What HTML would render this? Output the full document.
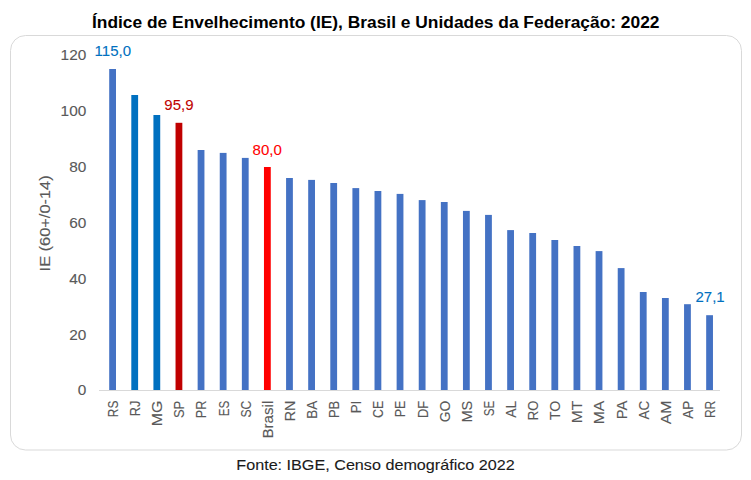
<!DOCTYPE html>
<html><head><meta charset="utf-8"><style>
html,body{margin:0;padding:0;background:#fff;}
body{width:751px;height:480px;overflow:hidden;position:relative;font-family:"Liberation Sans",sans-serif;}
svg{position:absolute;left:0;top:0;}
</style></head><body>
<svg width="751" height="480" viewBox="0 0 751 480" font-family="Liberation Sans, sans-serif">
<rect x="10.5" y="35.5" width="731" height="414.5" rx="15" ry="15" fill="#fff" stroke="#d9d9d9" stroke-width="1"/>
<text x="92" y="27.7" font-size="17.2" font-weight="bold" fill="#000" textLength="567.5" lengthAdjust="spacingAndGlyphs">Índice de Envelhecimento (IE), Brasil e Unidades da Federação: 2022</text>
<line x1="99" y1="390.5" x2="720" y2="390.5" stroke="#d9d9d9" stroke-width="1"/>
<rect x="109.20" y="69" width="6.8" height="321.00" fill="#4472C4"/><rect x="131.31" y="95" width="6.8" height="295.00" fill="#0070C0"/><rect x="153.42" y="115" width="6.8" height="275.00" fill="#0070C0"/><rect x="175.53" y="122.8" width="6.8" height="267.20" fill="#C00000"/><rect x="197.64" y="150" width="6.8" height="240.00" fill="#4472C4"/><rect x="219.75" y="152.9" width="6.8" height="237.10" fill="#4472C4"/><rect x="241.86" y="157.9" width="6.8" height="232.10" fill="#4472C4"/><rect x="263.97" y="167" width="6.8" height="223.00" fill="#FF0000"/><rect x="286.08" y="178" width="6.8" height="212.00" fill="#4472C4"/><rect x="308.19" y="179.9" width="6.8" height="210.10" fill="#4472C4"/><rect x="330.30" y="183" width="6.8" height="207.00" fill="#4472C4"/><rect x="352.41" y="188.1" width="6.8" height="201.90" fill="#4472C4"/><rect x="374.52" y="191" width="6.8" height="199.00" fill="#4472C4"/><rect x="396.63" y="193.9" width="6.8" height="196.10" fill="#4472C4"/><rect x="418.74" y="200.1" width="6.8" height="189.90" fill="#4472C4"/><rect x="440.85" y="202" width="6.8" height="188.00" fill="#4472C4"/><rect x="462.96" y="210.9" width="6.8" height="179.10" fill="#4472C4"/><rect x="485.07" y="214.9" width="6.8" height="175.10" fill="#4472C4"/><rect x="507.18" y="230.1" width="6.8" height="159.90" fill="#4472C4"/><rect x="529.29" y="233" width="6.8" height="157.00" fill="#4472C4"/><rect x="551.40" y="240" width="6.8" height="150.00" fill="#4472C4"/><rect x="573.51" y="246" width="6.8" height="144.00" fill="#4472C4"/><rect x="595.62" y="251.1" width="6.8" height="138.90" fill="#4472C4"/><rect x="617.73" y="268.1" width="6.8" height="121.90" fill="#4472C4"/><rect x="639.84" y="292" width="6.8" height="98.00" fill="#4472C4"/><rect x="661.95" y="298" width="6.8" height="92.00" fill="#4472C4"/><rect x="684.06" y="304.2" width="6.8" height="85.80" fill="#4472C4"/><rect x="706.17" y="315.2" width="6.8" height="74.80" fill="#4472C4"/>
<g font-size="15.4" fill="#595959" stroke="#595959" stroke-width="0.12"><text x="86.3" y="395.40" text-anchor="end">0</text><text x="86.3" y="339.57" text-anchor="end">20</text><text x="86.3" y="283.73" text-anchor="end">40</text><text x="86.3" y="227.90" text-anchor="end">60</text><text x="86.3" y="172.07" text-anchor="end">80</text><text x="86.3" y="116.23" text-anchor="end">100</text><text x="86.3" y="60.40" text-anchor="end">120</text></g>
<g font-size="15" fill="#595959" stroke="#595959" stroke-width="0.12"><text transform="translate(118.00,400.70) rotate(-90)" text-anchor="end" textLength="16.5" lengthAdjust="spacingAndGlyphs">RS</text><text transform="translate(140.11,400.70) rotate(-90)" text-anchor="end" textLength="15.6" lengthAdjust="spacingAndGlyphs">RJ</text><text transform="translate(162.22,400.70) rotate(-90)" text-anchor="end" textLength="25.6" lengthAdjust="spacingAndGlyphs">MG</text><text transform="translate(184.33,400.70) rotate(-90)" text-anchor="end" textLength="17.4" lengthAdjust="spacingAndGlyphs">SP</text><text transform="translate(206.44,400.70) rotate(-90)" text-anchor="end" textLength="17.6" lengthAdjust="spacingAndGlyphs">PR</text><text transform="translate(228.55,400.70) rotate(-90)" text-anchor="end" textLength="15.6" lengthAdjust="spacingAndGlyphs">ES</text><text transform="translate(250.66,400.70) rotate(-90)" text-anchor="end" textLength="16.9" lengthAdjust="spacingAndGlyphs">SC</text><text transform="translate(272.77,400.70) rotate(-90)" text-anchor="end" textLength="37.8" lengthAdjust="spacingAndGlyphs">Brasil</text><text transform="translate(294.88,400.70) rotate(-90)" text-anchor="end" textLength="20.6" lengthAdjust="spacingAndGlyphs">RN</text><text transform="translate(316.99,400.70) rotate(-90)" text-anchor="end" textLength="18.0" lengthAdjust="spacingAndGlyphs">BA</text><text transform="translate(339.10,400.70) rotate(-90)" text-anchor="end" textLength="17.4" lengthAdjust="spacingAndGlyphs">PB</text><text transform="translate(361.21,400.70) rotate(-90)" text-anchor="end" textLength="12.6" lengthAdjust="spacingAndGlyphs">PI</text><text transform="translate(383.32,400.70) rotate(-90)" text-anchor="end" textLength="17.4" lengthAdjust="spacingAndGlyphs">CE</text><text transform="translate(405.43,400.70) rotate(-90)" text-anchor="end" textLength="16.6" lengthAdjust="spacingAndGlyphs">PE</text><text transform="translate(427.54,400.70) rotate(-90)" text-anchor="end" textLength="17.4" lengthAdjust="spacingAndGlyphs">DF</text><text transform="translate(449.65,400.70) rotate(-90)" text-anchor="end" textLength="21.6" lengthAdjust="spacingAndGlyphs">GO</text><text transform="translate(471.76,400.70) rotate(-90)" text-anchor="end" textLength="21.8" lengthAdjust="spacingAndGlyphs">MS</text><text transform="translate(493.87,400.70) rotate(-90)" text-anchor="end" textLength="15.6" lengthAdjust="spacingAndGlyphs">SE</text><text transform="translate(515.98,400.70) rotate(-90)" text-anchor="end" textLength="17.0" lengthAdjust="spacingAndGlyphs">AL</text><text transform="translate(538.09,400.70) rotate(-90)" text-anchor="end" textLength="19.6" lengthAdjust="spacingAndGlyphs">RO</text><text transform="translate(560.20,400.70) rotate(-90)" text-anchor="end" textLength="19.4" lengthAdjust="spacingAndGlyphs">TO</text><text transform="translate(582.31,400.70) rotate(-90)" text-anchor="end" textLength="22.6" lengthAdjust="spacingAndGlyphs">MT</text><text transform="translate(604.42,400.70) rotate(-90)" text-anchor="end" textLength="23.6" lengthAdjust="spacingAndGlyphs">MA</text><text transform="translate(626.53,400.70) rotate(-90)" text-anchor="end" textLength="18.6" lengthAdjust="spacingAndGlyphs">PA</text><text transform="translate(648.64,400.70) rotate(-90)" text-anchor="end" textLength="18.8" lengthAdjust="spacingAndGlyphs">AC</text><text transform="translate(670.75,400.70) rotate(-90)" text-anchor="end" textLength="23.6" lengthAdjust="spacingAndGlyphs">AM</text><text transform="translate(692.86,400.70) rotate(-90)" text-anchor="end" textLength="18.1" lengthAdjust="spacingAndGlyphs">AP</text><text transform="translate(714.97,400.70) rotate(-90)" text-anchor="end" textLength="17.4" lengthAdjust="spacingAndGlyphs">RR</text></g>
<text transform="translate(50,223.4) rotate(-90)" text-anchor="middle" font-size="15" fill="#595959" stroke="#595959" stroke-width="0.12" textLength="96" lengthAdjust="spacingAndGlyphs">IE (60+/0-14)</text>
<g font-size="15" stroke-width="0.1">
<text x="112.8" y="56.0" text-anchor="middle" fill="#0070C0" stroke="#0070C0">115,0</text>
<text x="178.9" y="110" text-anchor="middle" fill="#C00000" stroke="#C00000">95,9</text>
<text x="267.2" y="154.6" text-anchor="middle" fill="#FF0000" stroke="#FF0000">80,0</text>
<text x="710.1" y="302.3" text-anchor="middle" fill="#0070C0" stroke="#0070C0">27,1</text>
</g>
<text x="236.3" y="469.8" font-size="14.6" fill="#1a1a1a" stroke="#1a1a1a" stroke-width="0.1" textLength="278.5" lengthAdjust="spacingAndGlyphs">Fonte: IBGE, Censo demográfico 2022</text>
</svg>
</body></html>
